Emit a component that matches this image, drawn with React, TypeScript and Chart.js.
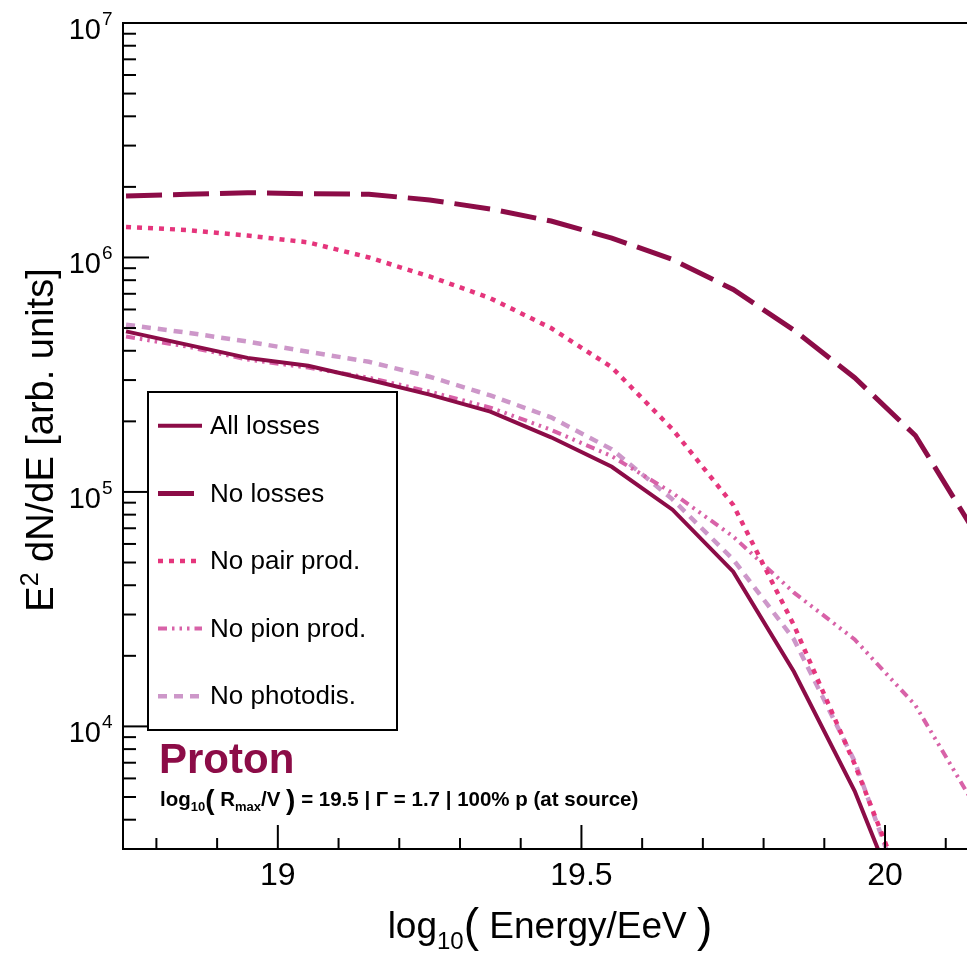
import React, { useEffect, useRef } from 'react';
import { Chart, registerables } from 'chart.js';

Chart.register(...registerables);

// ---------- data ----------
const energies = [18.75, 18.85, 18.95, 19.05, 19.15, 19.25, 19.35, 19.45, 19.55, 19.65, 19.75, 19.85, 19.95, 20.05, 20.15];
const allLosses = [4.84e5, 4.25e5, 3.73e5, 3.45e5, 3.01e5, 2.6e5, 2.2e5, 1.71e5, 1.28e5, 8.4e4, 4.57e4, 1.71e4, 5.3e3, 1.2e3, 250];
const noLosses = [1.83e6, 1.86e6, 1.89e6, 1.87e6, 1.86e6, 1.76e6, 1.61e6, 1.43e6, 1.21e6, 9.8e5, 7.3e5, 4.9e5, 3.07e5, 1.74e5, 6.6e4];
const noPairProd = [1.35e6, 1.31e6, 1.24e6, 1.16e6, 1.0e6, 8.3e5, 6.7e5, 5.0e5, 3.4e5, 1.85e5, 8.8e4, 2.7e4, 6.9e3, 1.5e3, 300];
const noPionProd = [4.6e5, 4.17e5, 3.67e5, 3.39e5, 3.07e5, 2.68e5, 2.29e5, 1.84e5, 1.42e5, 9.9e4, 6.45e4, 3.72e4, 2.35e4, 1.23e4, 4.5e3];
const noPhotodis = [5.17e5, 4.78e5, 4.38e5, 3.96e5, 3.59e5, 3.1e5, 2.58e5, 2.08e5, 1.52e5, 9.3e4, 5.15e4, 2.35e4, 7.1e3, 1.35e3, 300];

const seriesLabels = ['All losses', 'No losses', 'No pair prod.', 'No pion prod.', 'No photodis.'];
const xTickLabels = [19, 19.5, 20];
const yDecades = [4, 5, 6, 7];

const X_MIN = 18.745;
const X_MAX = 20.135;
const Y_MIN = 3000;
const Y_MAX = 1e7;

const MAROON = '#8c0c47';
const PAIR = '#e5357c';
const PION = '#d862a8';
const PHOTO = '#cd97c9';
const FONT = '"Liberation Sans", Arial, Helvetica, sans-serif';

type Seg = { t: string; size: number; dy?: number; bold?: boolean };

function drawRich(ctx: CanvasRenderingContext2D, segs: Seg[], x: number, y: number, align: 'left' | 'center' | 'right', color: string) {
  const widths = segs.map((s) => {
    ctx.font = `${s.bold ? 'bold ' : ''}${s.size}px ${FONT}`;
    return ctx.measureText(s.t).width;
  });
  const total = widths.reduce((a, b) => a + b, 0);
  let cx = align === 'left' ? x : align === 'center' ? x - total / 2 : x - total;
  ctx.fillStyle = color;
  ctx.textAlign = 'left';
  ctx.textBaseline = 'alphabetic';
  segs.forEach((s, i) => {
    ctx.font = `${s.bold ? 'bold ' : ''}${s.size}px ${FONT}`;
    ctx.fillText(s.t, cx, y + (s.dy || 0));
    cx += widths[i];
  });
}

const framePlugin = {
  id: 'rootFrame',
  afterDatasetsDraw(chart: any) {
    const ctx: CanvasRenderingContext2D = chart.ctx;
    const { left, right, top, bottom } = chart.chartArea;
    const xs = chart.scales.x;
    const ys = chart.scales.y;
    ctx.save();

    // frame lines
    ctx.strokeStyle = '#000';
    ctx.lineWidth = 2;
    ctx.setLineDash([]);
    ctx.beginPath();
    ctx.moveTo(right, top);
    ctx.lineTo(left, top);
    ctx.lineTo(left, bottom);
    ctx.lineTo(right, bottom);
    ctx.stroke();

    // x ticks (inward)
    for (let k = Math.ceil(X_MIN * 10 + 1e-6); k <= Math.floor(X_MAX * 10 + 1e-6); k++) {
      const v = k / 10;
      const px = xs.getPixelForValue(v);
      const major = k % 5 === 0;
      ctx.beginPath();
      ctx.moveTo(px, bottom);
      ctx.lineTo(px, bottom - (major ? 24 : 11));
      ctx.stroke();
    }
    // y ticks (inward)
    for (let d = 3; d <= 7; d++) {
      for (let m = 1; m <= 9; m++) {
        const v = m * Math.pow(10, d);
        if (v <= Y_MIN || v > Y_MAX) continue;
        const py = ys.getPixelForValue(v);
        ctx.beginPath();
        ctx.moveTo(left, py);
        ctx.lineTo(left + (m === 1 ? 26 : 13), py);
        ctx.stroke();
      }
    }

    // y tick labels 10^n
    yDecades.forEach((d) => {
      const py = ys.getPixelForValue(Math.pow(10, d));
      ctx.fillStyle = '#000';
      ctx.textBaseline = 'alphabetic';
      ctx.font = `29px ${FONT}`;
      ctx.textAlign = 'right';
      ctx.fillText('10', left - 22, py + 16);
      ctx.font = `19px ${FONT}`;
      ctx.textAlign = 'left';
      ctx.fillText(String(d), left - 21, py + 2);
    });

    // x title
    drawRich(
      ctx,
      [
        { t: 'log', size: 37 },
        { t: '10', size: 24, dy: 11 },
        { t: '(', size: 46, dy: 3 },
        { t: ' Energy/EeV ', size: 37 },
        { t: ')', size: 46, dy: 3 },
      ],
      550,
      938,
      'center',
      '#000'
    );

    // y title
    ctx.save();
    ctx.translate(53, 440);
    ctx.rotate(-Math.PI / 2);
    drawRich(
      ctx,
      [
        { t: 'E', size: 38 },
        { t: '2', size: 25, dy: -15 },
        { t: ' dN/dE [arb. units]', size: 38 },
      ],
      0,
      0,
      'center',
      '#000'
    );
    ctx.restore();

    // legend
    const lx0 = 148, ly0 = 392, lx1 = 397, ly1 = 730;
    ctx.fillStyle = '#fff';
    ctx.fillRect(lx0, ly0, lx1 - lx0, ly1 - ly0);
    ctx.strokeStyle = '#000';
    ctx.lineWidth = 2;
    ctx.setLineDash([]);
    ctx.strokeRect(lx0, ly0, lx1 - lx0, ly1 - ly0);
    const n = chart.data.datasets.length;
    chart.data.datasets.forEach((ds: any, i: number) => {
      const cy = ly0 + ((ly1 - ly0) / n) * (i + 0.5);
      ctx.strokeStyle = ds.borderColor;
      ctx.lineWidth = ds.borderWidth;
      ctx.setLineDash(ds.borderDash || []);
      ctx.lineCap = 'butt';
      ctx.beginPath();
      ctx.moveTo(158, cy);
      ctx.lineTo(202, cy);
      ctx.stroke();
      ctx.setLineDash([]);
      ctx.fillStyle = '#000';
      ctx.font = `26px ${FONT}`;
      ctx.textAlign = 'left';
      ctx.textBaseline = 'middle';
      ctx.fillText(ds.label, 210, cy + 1);
    });

    // annotation
    ctx.fillStyle = MAROON;
    ctx.font = `bold 42px ${FONT}`;
    ctx.textAlign = 'left';
    ctx.textBaseline = 'alphabetic';
    ctx.fillText('Proton', 159, 773);

    drawRich(
      ctx,
      [
        { t: 'log', size: 20.5, bold: true },
        { t: '10', size: 13, bold: true, dy: 5 },
        { t: '(', size: 28, bold: true, dy: 3 },
        { t: ' R', size: 20.5, bold: true },
        { t: 'max', size: 13, bold: true, dy: 5 },
        { t: '/V ', size: 20.5, bold: true },
        { t: ')', size: 28, bold: true, dy: 3 },
        { t: ' = 19.5 | \u0393 = 1.7 | 100% p (at source)', size: 20.5, bold: true },
      ],
      160,
      806,
      'left',
      '#000'
    );

    ctx.restore();
  },
};

function pts(arr: number[]) {
  return energies.map((e, i) => ({ x: e, y: arr[i] }));
}

export default function App() {
  const ref = useRef<HTMLCanvasElement | null>(null);

  useEffect(() => {
    const canvas = ref.current;
    if (!canvas) return;
    const chart = new Chart(canvas, {
      type: 'line',
      data: {
        datasets: [
          { label: seriesLabels[0], data: pts(allLosses), borderColor: MAROON, borderWidth: 4, borderDash: [], clip: 0 },
          { label: seriesLabels[1], data: pts(noLosses), borderColor: MAROON, borderWidth: 5, borderDash: [36, 11], clip: 0 },
          { label: seriesLabels[2], data: pts(noPairProd), borderColor: PAIR, borderWidth: 4.5, borderDash: [5, 6], clip: 0 },
          { label: seriesLabels[3], data: pts(noPionProd), borderColor: PION, borderWidth: 4, borderDash: [9, 5, 2.5, 5, 2.5, 5, 2.5, 5], clip: 0 },
          { label: seriesLabels[4], data: pts(noPhotodis), borderColor: PHOTO, borderWidth: 4.5, borderDash: [9, 7], clip: 0 },
        ] as any,
      },
      options: {
        animation: false,
        responsive: false,
        maintainAspectRatio: false,
        devicePixelRatio: 1,
        layout: { padding: { top: 23, right: 0, left: 0, bottom: 0 } },
        elements: { point: { radius: 0 }, line: { tension: 0, fill: false } },
        plugins: { legend: { display: false }, tooltip: { enabled: false } },
        scales: {
          x: {
            type: 'linear',
            min: X_MIN,
            max: X_MAX,
            grid: { display: false, drawTicks: false },
            border: { display: false },
            ticks: {
              stepSize: 0.1,
              autoSkip: false,
              maxRotation: 0,
              padding: 8,
              color: '#000',
              font: { size: 32, family: FONT },
              callback: (value: any) => {
                const v = Number(value);
                const hit = xTickLabels.find((t) => Math.abs(t - v) < 1e-6);
                return hit !== undefined ? String(hit) : '';
              },
            },
            afterFit: (s: any) => {
              s.height = 108;
              s.paddingLeft = 0;
              s.paddingRight = 0;
            },
          },
          y: {
            type: 'logarithmic',
            min: Y_MIN,
            max: Y_MAX,
            grid: { display: false, drawTicks: false },
            border: { display: false },
            ticks: { display: false },
            afterFit: (s: any) => {
              s.width = 123;
              s.paddingTop = 0;
              s.paddingBottom = 0;
            },
          },
        },
      } as any,
      plugins: [framePlugin],
    });
    return () => chart.destroy();
  }, []);

  return (
    <div style={{ position: 'fixed', left: 0, top: 0, width: 967, height: 957, background: '#fff' }}>
      <canvas ref={ref} width={967} height={957} style={{ display: 'block', width: 967, height: 957 }} />
    </div>
  );
}
